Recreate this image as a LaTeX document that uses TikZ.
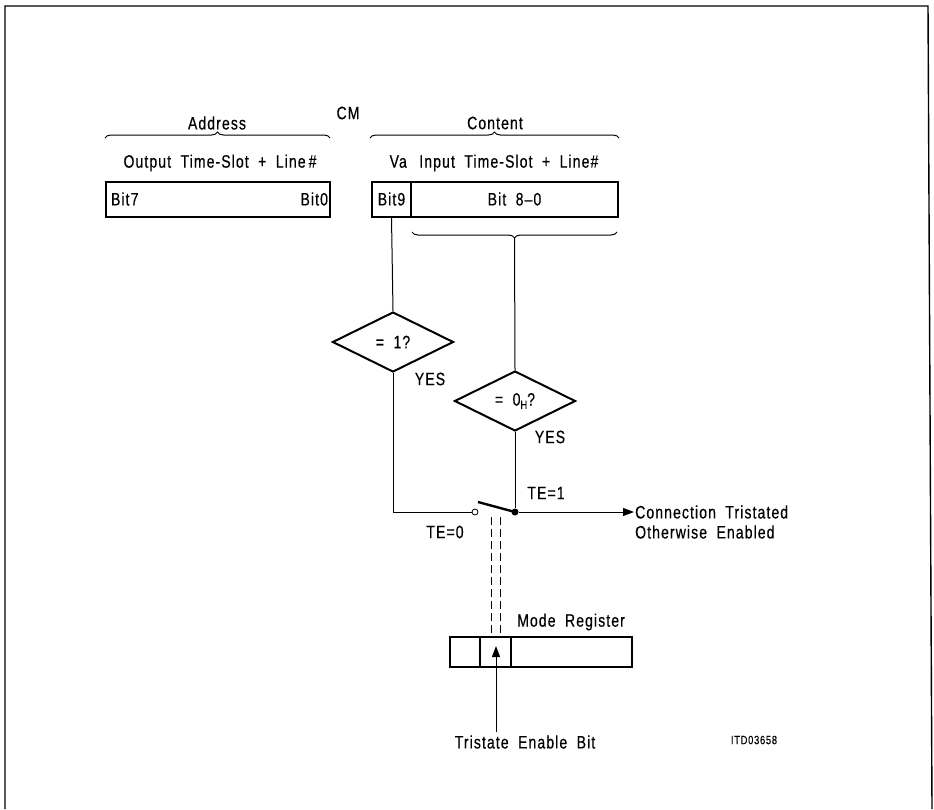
\documentclass[tikz,border=0pt]{standalone}
\usepackage{fontspec}
\setmainfont{Liberation Sans}[FakeStretch=0.78,LetterSpace=6,WordSpace=1.9,FakeBold=0.4]
\usetikzlibrary{shapes.geometric,arrows.meta,decorations.pathreplacing}
\begin{document}
\begin{tikzpicture}[x=1pt, y=-1pt, font=\fontsize{18}{21}\selectfont,
    reg/.style={draw, line width=2pt, minimum height=35pt, inner sep=0pt},
    cell/.style={draw, line width=2pt, minimum height=30pt, inner sep=0pt},
    test/.style={draw, diamond, aspect=2, line width=2pt,
                 minimum width=121pt, minimum height=60pt, inner sep=0pt},
    wire/.style={line width=1pt},
    curly/.style={decorate, decoration={brace, amplitude=6pt}, line width=1pt},
    tip/.style={-{Triangle[length=11pt,width=8pt]}, line width=1pt}]

  \useasboundingbox (0,0) rectangle (934,809);
  \draw[line width=1.4pt] (5,809) -- (5,6) -- (928,6) -- (932,809);

  % control memory words
  \node (cm)   at (348,113) {CM};
  \node (adr)  at (217,123) {Address};
  \node (cnt)  at (495,123) {Content};
  \draw[curly] (105,138) -- (330,138);
  \draw[curly] (370,138) -- (619,138);
  \node (otsl) at (220,163) {Output Time-Slot + Line\,\#};
  \node (itsl) at (494,163) {Va\, Input Time-Slot + Line\#};

  \node[reg, minimum width=224pt] (addr)  at (217.5,199) {};
  \node[anchor=west] (b7) at ([xshift=3pt]addr.west) {Bit7};
  \node[anchor=east] (b0) at ([xshift=1pt]addr.east) {Bit0};
  \node[reg, minimum width=39pt]  (bit9)  at (391.5,199) {Bit9};
  \node[reg, minimum width=207pt] (bit80) at (514.5,199) {Bit 8--0};
  \draw[curly] (617,232) -- (412,232);
  \coordinate (br) at (514.5,238);

  % tests
  \node[test] (t1) at (393,342) {= 1?};
  \node[test] (t2) at (515,401) {= 0\raisebox{-0.35ex}{\fontsize{12}{14}\selectfont H}?};
  \node (y1) at (430,379) {YES};
  \node (y2) at (550,437) {YES};
  \draw[wire] (bit9.south) -- (t1.north);
  \draw[wire] (br) -- (t2.north);

  % switch
  \node[circle, draw, line width=0.8pt, inner sep=0pt, minimum size=6pt] (open) at (475,512) {};
  \node[circle, fill, inner sep=0pt, minimum size=7pt] (dot) at (515,512) {};
  \coordinate (lev) at (478,502);
  \draw[wire] (t1.south) |- (open.west);
  \draw[wire] (t2.south) -- (dot);
  \draw[line width=2.4pt] (lev) -- (dot.center);
  \node (te1) at (546,493) {TE=1};
  \node (te0) at (445,532) {TE=0};
  \node[anchor=west, inner sep=1pt] (con) at (634,512) {Connection Tristated};
  \node[anchor=west, inner sep=1pt] (oth) at (634,532) {Otherwise Enabled};
  \draw[tip] (dot) -- (con.west);

  % mode register
  \node[cell, minimum width=30pt]  (mr1)   at (465,652) {};
  \node[cell, minimum width=31pt]  (tebit) at (495.5,652) {};
  \node[cell, minimum width=121pt] (mr3)   at (571.5,652) {};
  \node[anchor=west, inner sep=0pt] (mrl) at (517,622) {Mode Register};
  \foreach \x in {491,500}
    \draw[wire, dash pattern=on 8pt off 4pt] (\x,517) -- (tebit.north -| \x,0);

  \coordinate (tetip) at (496,646);
  \node (teb) at (525,742) {Tristate Enable Bit};
  \draw[tip] (tetip |- teb.north) -- (tetip);
  \node[font=\fontsize{12}{14}\selectfont] (itd) at (754,740) {ITD03658};
\end{tikzpicture}
\end{document}
